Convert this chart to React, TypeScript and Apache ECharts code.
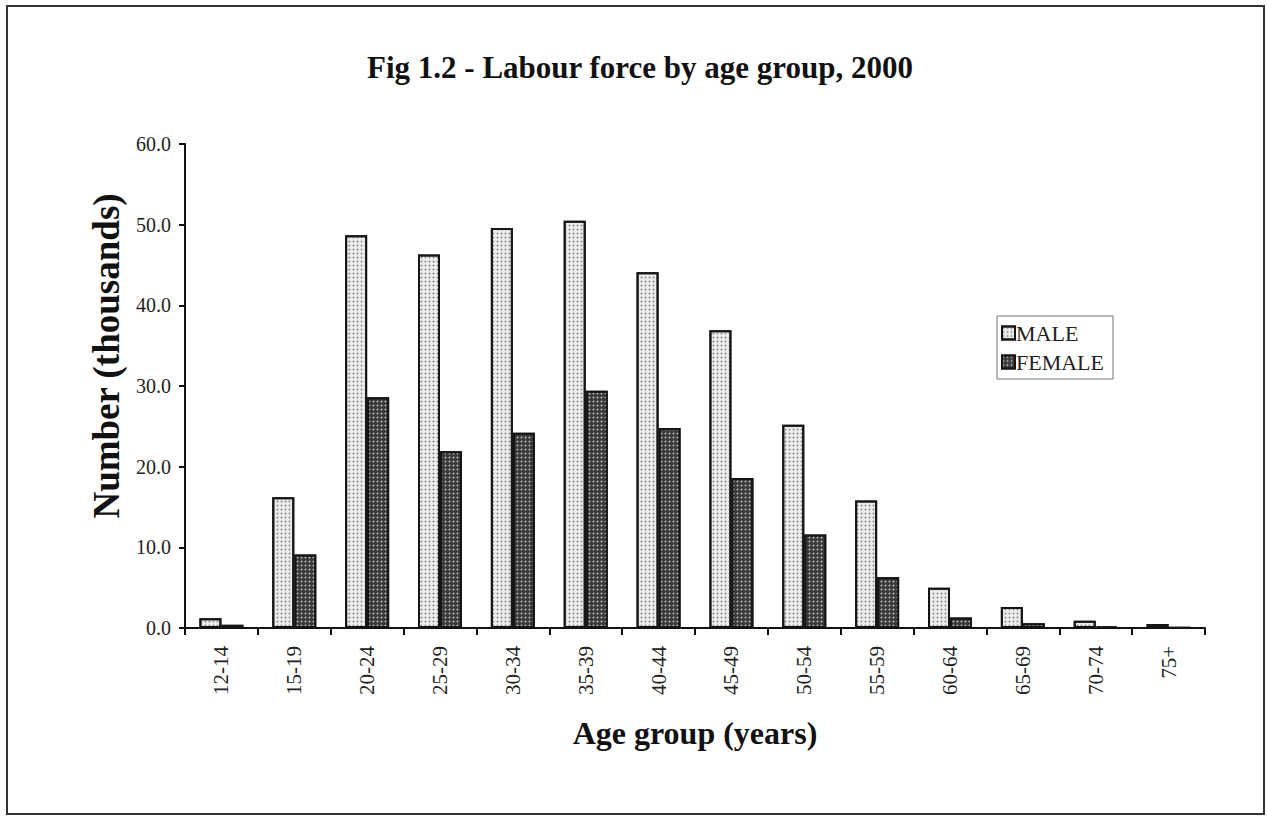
import React, { useEffect, useRef } from "react";
import * as echarts from "echarts";

const categories = ["12-14", "15-19", "20-24", "25-29", "30-34", "35-39", "40-44", "45-49", "50-54", "55-59", "60-64", "65-69", "70-74", "75+"];
const maleValues = [1.2, 16.2, 48.7, 46.3, 49.6, 50.5, 44.1, 36.9, 25.2, 15.8, 5.0, 2.6, 0.9, 0.5];
const femaleValues = [0.4, 9.1, 28.6, 21.9, 24.2, 29.4, 24.8, 18.6, 11.6, 6.3, 1.3, 0.6, 0.2, 0.05];
const yTicks = { min: 0, max: 60, interval: 10 };

const FONT = "'Liberation Serif', 'Times New Roman', serif";

export default function App() {
  const ref = useRef<HTMLDivElement>(null);
  useEffect(() => {
    if (!ref.current) return;
    const chart = echarts.init(ref.current, undefined, { renderer: "svg" });
    chart.setOption({
      animation: false,
      backgroundColor: "#ffffff",
      title: {
        text: "Fig 1.2 - Labour force by age group, 2000",
        left: 635,
        textAlign: "center",
        top: 47,
        textStyle: { fontFamily: FONT, fontSize: 31, fontWeight: "bold", color: "#111" },
      },
      graphic: [
        {
          type: "rect",
          shape: { x: 7, y: 6, width: 1257, height: 808 },
          style: { fill: "none", stroke: "#333", lineWidth: 2 },
          silent: true,
        },
      ],
      legend: {
        orient: "vertical",
        left: 997,
        top: 316,
        padding: [6, 9, 6, 4],
        itemGap: 7,
        itemWidth: 13,
        itemHeight: 13,
        borderColor: "#777",
        borderWidth: 1,
        icon: "rect",
        textStyle: { fontFamily: FONT, fontSize: 22, color: "#222", padding: [0, 0, 0, -4] },
        data: ["MALE", "FEMALE"],
      },
      grid: { left: 185, right: 62, top: 144, bottom: 189, containLabel: false },
      xAxis: {
        type: "category",
        data: categories,
        name: "Age group (years)",
        nameLocation: "middle",
        nameGap: 89,
        nameTextStyle: { fontFamily: FONT, fontSize: 32, fontWeight: "bold", color: "#111", verticalAlign: "top" },
        axisLine: { lineStyle: { color: "#111", width: 2 } },
        axisTick: { show: true, length: 7, lineStyle: { color: "#111", width: 2 } },
        axisLabel: { rotate: 90, margin: 18, fontFamily: FONT, fontSize: 21, color: "#222" },
      },
      yAxis: {
        type: "value",
        min: yTicks.min,
        max: yTicks.max,
        interval: yTicks.interval,
        name: "Number (thousands)",
        nameLocation: "middle",
        nameGap: 58,
        nameTextStyle: { fontFamily: FONT, fontSize: 37, fontWeight: "bold", color: "#111", padding: [0, 0, 0, 60] },
        axisLine: { show: true, lineStyle: { color: "#111", width: 2 } },
        axisTick: { show: true, length: 6, lineStyle: { color: "#111", width: 2 } },
        splitLine: { show: false },
        axisLabel: {
          margin: 14,
          fontFamily: FONT,
          fontSize: 20,
          color: "#222",
          formatter: (v: number) => v.toFixed(1),
        },
      },
      series: [
        {
          name: "MALE",
          type: "bar",
          data: maleValues,
          barWidth: 22,
          barGap: "0%",
          itemStyle: {
            color: "#ececec",
            borderColor: "#151515",
            borderWidth: 2,
            decal: {
              symbol: "circle",
              symbolSize: 0.6,
              dashArrayX: [3, 1],
              dashArrayY: [3, 1],
              color: "#8a8a8a",
              backgroundColor: "#ececec",
            },
          },
        },
        {
          name: "FEMALE",
          type: "bar",
          data: femaleValues,
          barWidth: 22,
          barGap: "0%",
          itemStyle: {
            color: "#3a3a3a",
            borderColor: "#151515",
            borderWidth: 2,
            decal: {
              symbol: "circle",
              symbolSize: 0.6,
              dashArrayX: [3, 1],
              dashArrayY: [3, 1],
              color: "#bdbdbd",
              backgroundColor: "#3a3a3a",
            },
          },
        },
      ],
    });
    return () => chart.dispose();
  }, []);
  return (
    <div
      ref={ref}
      style={{ position: "fixed", left: 0, top: 0, width: 1267, height: 817, background: "#fff" }}
    />
  );
}
